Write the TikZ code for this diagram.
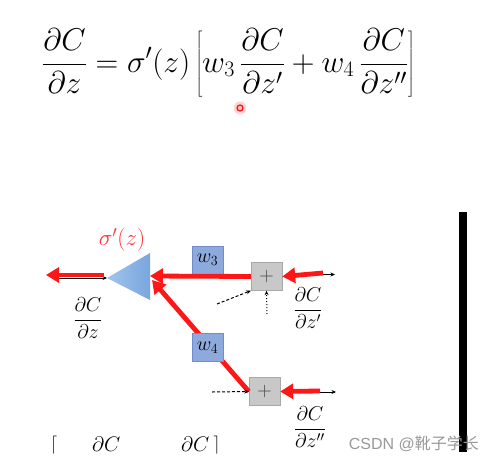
\documentclass[tikz,border=0pt]{standalone}
\usepackage{fix-cm}
\usepackage{fontspec}
\newfontfamily\cjk{Noto Sans CJK SC}
\newfontfamily\wmfont{Liberation Sans}
\usetikzlibrary{arrows.meta}
\definecolor{myred}{RGB}{255,22,22}
\definecolor{sigred}{RGB}{255,50,50}
\definecolor{wfill}{RGB}{142,169,219}
\definecolor{wdraw}{RGB}{112,140,205}
\definecolor{pfill}{RGB}{200,200,200}
\definecolor{pdraw}{RGB}{168,168,168}
\definecolor{tril}{RGB}{160,196,236}
\definecolor{trir}{RGB}{122,166,222}
\begin{document}
\begin{tikzpicture}[x=1pt,y=-1pt,
  redarrow/.style={draw=myred, line width=4.8pt, -{Triangle[length=13pt,width=15pt]}},
  thinarrow/.style={draw=black, line width=0.8pt, -{Stealth[length=4.5pt,width=4pt]}},
  dasharrow/.style={draw=black, line width=1pt, dash pattern=on 3pt off 2pt, -{Stealth[length=4.5pt,width=4pt]}},
  dotarrow/.style={draw=black, line width=1pt, dotted, -{Stealth[length=4.5pt,width=4pt]}},
  wbox/.style={draw=wdraw, fill=wfill, minimum width=31pt, minimum height=28pt, inner sep=0pt, font=\fontsize{20}{22}\selectfont},
  pbox/.style={draw=pdraw, fill=pfill, minimum width=31pt, minimum height=28pt, inner sep=0pt, font=\fontsize{20}{22}\selectfont, text=black!75},
  lab/.style={inner sep=0pt, font=\fontsize{20}{24}\selectfont}
]
\useasboundingbox (0,0) rectangle (495,464);
\fill[white] (0,0) rectangle (495,464);

% top equation
\node[inner sep=0pt, font=\fontsize{31.5}{38}\selectfont] (eq) at (228.5,63)
  {$\displaystyle \frac{\partial C}{\partial z} = \sigma'(z)\left[w_3\,\frac{\partial C}{\partial z'} + w_4\,\frac{\partial C}{\partial z''}\right]$};

% red pointer dot
\node[circle, fill=myred!18, inner sep=0pt, minimum size=13pt] (glow) at (240,108) {};
\node[circle, draw=myred, line width=1.3pt, fill=myred!25, inner sep=0pt, minimum size=6pt] (dot) at (240,108) {};

% black bar
\fill[black] (459,212) rectangle (467,452);

% triangle (sigma)
\shade[left color=tril, right color=trir] (107,278) -- (150,253) -- (150,300) -- cycle;
\coordinate (triapex) at (107,278);
\coordinate (tribase) at (150,276);
\coordinate (tribase2) at (152,280);
\node[inner sep=0pt, font=\fontsize{23}{26}\selectfont, text=sigred] (sig) at (122,240) {$\sigma'(z)$};

% boxes
\node[wbox] (w3) at (207.5,260) {$w_3$};
\node[pbox] (plus1) at (266.5,276.5) {$+$};
\node[pbox] (plus2) at (264.5,391.5) {$+$};

% output side
\coordinate (outstart) at (104,275);
\coordinate (outend) at (46,275);
\coordinate (inthin) at (55,278);
\draw[thinarrow] (inthin) -- (triapex);
\draw[redarrow] (outstart) -- (outend);
\node[lab] (dz) at (88,318) {$\displaystyle\frac{\partial C}{\partial z}$};

% branches to triangle
\draw[redarrow] (plus1.west) -- (tribase);
\draw[redarrow] (plus2.west) -- (tribase2);
\node[wbox] (w4) at (207.5,347.5) {$w_4$};

% inputs to plus1
\coordinate (in1a) at (300,274.5);
\coordinate (in1b) at (335,274.5);
\coordinate (red1) at (323,273);
\draw[thinarrow] (in1a) -- (in1b);
\draw[redarrow] (red1) -- (plus1.east);
\coordinate (dash1) at (217,304);
\draw[dasharrow] (dash1) -- (plus1.south west);
\coordinate (dot1) at (267,314);
\draw[dotarrow] (dot1) -- (plus1.south);
\node[lab] (dz1) at (308,308) {$\displaystyle\frac{\partial C}{\partial z'}$};

% inputs to plus2
\coordinate (in2a) at (300,392);
\coordinate (in2b) at (336,392);
\coordinate (red2) at (320,391);
\draw[thinarrow] (in2a) -- (in2b);
\draw[redarrow] (red2) -- (plus2.east);
\coordinate (dash2) at (212,392);
\draw[dasharrow] (dash2) -- (plus2.west);
\node[lab] (dz2) at (310,427) {$\displaystyle\frac{\partial C}{\partial z''}$};

% cut-off equation at bottom
\begin{scope}
\clip (0,430) rectangle (495,453);
\node[inner sep=0pt, font=\fontsize{21}{25}\selectfont, anchor=north west] (eqb) at (50,436)
  {$\displaystyle \left[\hspace{34pt}\frac{\partial C}{\partial z'}\hspace{57pt}\frac{\partial C}{\partial z''}\hspace{2pt}\right]$};
\end{scope}

% watermark
\node[inner sep=0pt, anchor=east, text=black!40, font=\fontsize{16}{18}\selectfont\wmfont] (wm) at (479,444) {CSDN @{\cjk 靴子学长}};
\end{tikzpicture}
\end{document}
